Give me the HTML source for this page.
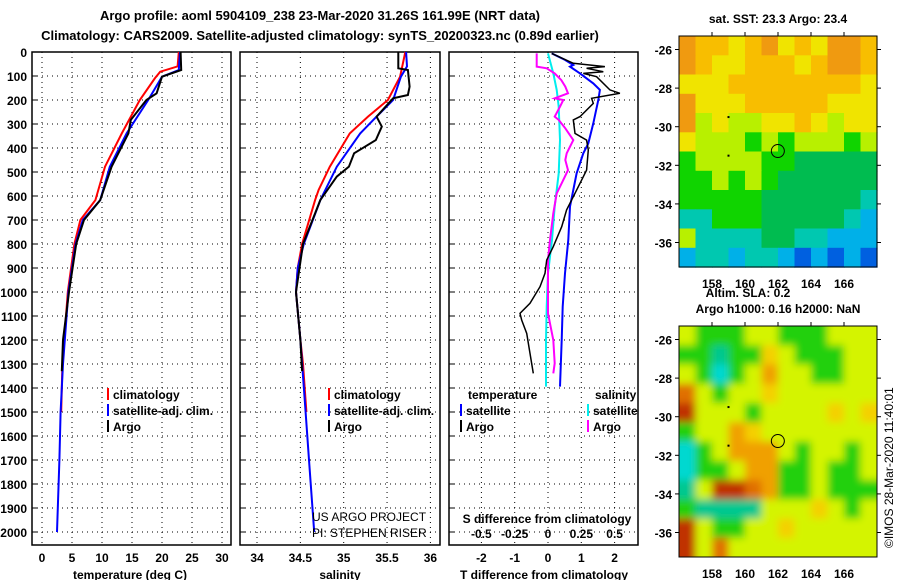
<!DOCTYPE html>
<html><head><meta charset="utf-8"><style>
html,body{margin:0;padding:0;background:#fff}
svg{display:block;font-family:"Liberation Sans",sans-serif}
.t{font-weight:bold;font-size:13px}
.tk{font-weight:bold;font-size:12px}
.lg{font-weight:bold;font-size:12px}
.nm{font-weight:normal;font-size:12px}
</style></head><body>
<svg id="s" width="900" height="580" viewBox="0 0 900 580" xmlns="http://www.w3.org/2000/svg">
<defs>
<filter id="blur" x="-5%" y="-5%" width="110%" height="110%"><feGaussianBlur stdDeviation="4"/></filter>
<clipPath id="clipSla"><rect x="679" y="326" width="198" height="231"/></clipPath>
<clipPath id="clipSal"><rect x="240" y="52" width="200" height="493"/></clipPath>
</defs>
<text class="t" x="320" y="20" text-anchor="middle" font-size="14">Argo profile: aoml 5904109_238 23-Mar-2020 31.26S 161.99E (NRT data)</text>
<text class="t" x="320" y="40" text-anchor="middle" font-size="14">Climatology: CARS2009. Satellite-adjusted climatology: synTS_20200323.nc (0.89d earlier)</text>
<g id="g"></g>
</svg>
<script>
// ---- data ----
const depthTicks=[0,100,200,300,400,500,600,700,800,900,1000,1100,1200,1300,1400,1500,1600,1700,1800,1900,2000];
const tempTicks=[0,5,10,15,20,25,30];
const salTicks=[34,34.5,35,35.5,36];
const salTickLabels=["34","34.5","35","35.5","36"];
const tdiffTicks=[-2,-1,0,1,2];
const sdiffTicks=[-0.5,-0.25,0,0.25,0.5];
const sdiffTickLabels=["-0.5","-0.25","0","0.25","0.5"];
// temperature profiles
const tClimDepth=[0,60,82,110,200,339,478,617,700,800,1000,1300,1500];
const tClimVal=[22.8,22.6,19.7,18.8,16.3,13.3,10.5,8.9,6.4,5.4,4.3,3.4,3.2];
const tSatDepth=[0,75,103,200,339,478,617,700,800,1000,1300,1500,1700,2000];
const tSatVal=[23,22.8,20,17.7,14.1,11.3,9.7,6.8,5.6,4.4,3.5,3.1,2.9,2.5];
const tArgoDepth=[0,75,103,172,200,283,339,478,617,700,800,1000,1100,1200,1330];
const tArgoVal=[23.1,23.2,20,19.1,17.4,14.8,14.4,11.6,9.7,7,5.7,4.5,4.0,3.5,3.3];
// salinity profiles
const sClimDepth=[0,103,200,269,339,478,575,617,800,900,1000,1200,1300,1500];
const sClimVal=[35.71,35.65,35.51,35.28,35.07,34.84,34.71,34.67,34.52,34.47,34.45,34.5,34.53,34.57];
const sSatDepth=[0,60,103,200,269,339,478,617,800,900,1000,1200,1500,1700,2000];
const sSatVal=[35.72,35.73,35.66,35.57,35.38,35.19,34.92,34.73,34.54,34.47,34.45,34.5,34.56,34.6,34.66];
const sArgoDepth=[0,68,75,144,179,193,269,311,367,422,478,519,617,800,1000,1200,1330];
const sArgoVal=[35.63,35.63,35.74,35.76,35.74,35.57,35.38,35.44,35.37,35.12,35.06,34.92,34.73,34.53,34.45,34.5,34.52];
// differences
const dTArgoDepth=[6,47,61,68,82,89,103,158,172,193,214,269,283,339,367,408,492,547,603,658,728,811,867,922,978,1047,1089,1117,1172,1256,1339];
const dTArgoVal=[0.11,0.76,1.71,1.16,1.66,1.06,1.46,1.86,2.16,1.31,1.36,0.96,0.76,0.81,1.16,1.21,1.16,0.96,0.76,0.56,0.41,0.16,-0.04,-0.09,-0.24,-0.54,-0.84,-0.79,-0.64,-0.54,-0.44];
const dTSatDepth=[6,33,54,61,89,131,158,200,297,381,422,506,575,644,783,922,1061,1200,1394];
const dTSatVal=[0.11,0.51,0.76,0.66,0.96,1.36,1.56,1.51,1.36,1.21,1.06,0.86,0.76,0.66,0.61,0.51,0.44,0.41,0.36];
const dSArgoDepth=[6,61,68,89,117,144,172,193,200,228,269,283,318,367,422,450,492,533,589,672,783,867,922,1033,1089,1200,1297,1339];
const dSArgoVal=[-0.085,-0.085,-0.01,0.05,0.10,0.13,0.15,0.05,0.115,0.09,0.05,0.08,0.13,0.19,0.14,0.13,0.15,0.115,0.065,0.04,0.015,0.0,0.0,0.0,0.0,0.04,0.05,0.04];
const dSSatDepth=[6,89,158,228,367,506,644,783,922,1061,1200,1394];
const dSSatVal=[0.0,0.04,0.065,0.08,0.09,0.08,0.05,0.03,0.0,-0.01,-0.015,-0.015];
// maps (lat/lon)
const lonTicks=[158,160,162,164,166];
const latTicks=[-26,-28,-30,-32,-34,-36];
const argoLon=161.99, argoLat=-31.26;
const sstRows=["ROOYORYOYRRO","ROYYOOOYORRO","YYYOOOOOOOOY","RYYYOOOOOYYY","RLYLLYYOYLYY","YLLLGLGLLLGL","GLLLLGGDDDDD","GGLGLGDDDDDD","GGGGGDDDDDDT","TTGGGDDDDDTC","LTTTTDDTTCCC","CTTCTTCBCBCB"];
const slaRows=["YGGGYYGGGYYY","GGTGGoYGGGYY","YGCGYOYYGGYY","rYGYYoYYYYYY","RYYYGYYYYoYo","GYYOoYYYYYYY","CGYOOOYGYYGY","CGGYOOGGYGGY","TYRRrOGGYGGG","GTTTTYYYoYGY","RYGGYYoYYYYY","RYrYYYYYYYYY"];
const sstCol={R:"#f09a10",O:"#f8be00",Y:"#f0e400",L:"#b8f000",G:"#10d400",D:"#00bc50",T:"#00c8b0",C:"#00b0e8",B:"#0060e0"};
const slaCol={Y:"#d4f400",G:"#20d010",T:"#00c890",C:"#00d8d0",O:"#f0a000",o:"#f4d000",R:"#c03000",r:"#e07000"};

// ---- helpers ----
const NS="http://www.w3.org/2000/svg";
const G=document.getElementById('g');
function mk(tag,at,parent){const e=document.createElementNS(NS,tag);for(const k in at)e.setAttribute(k,at[k]);(parent||G).appendChild(e);return e;}
const yD=d=>52+d*0.24;
const panels=[
 {x0:32,x1:231,fx:v=>42+6*v,ticks:tempTicks,labels:tempTicks.map(String),title:"temperature (deg C)",tx:130,name:"temperature-panel"},
 {x0:240,x1:440,fx:v=>257+86.7*(v-34),ticks:salTicks,labels:salTickLabels,title:"salinity",tx:340,name:"salinity-panel"},
 {x0:449,x1:638,fx:v=>548+33.3*v,ticks:tdiffTicks,labels:tdiffTicks.map(String),title:"T difference from climatology",tx:544,name:"difference-panel"}
];
const fS=v=>548+133.3*v;
panels.forEach((p,i)=>{
  const r=mk('rect',{x:p.x0,y:52,width:p.x1-p.x0,height:493,fill:"none",stroke:"#000","stroke-width":1.5});
  
  
  depthTicks.forEach(d=>{
    if(d>0){const l=mk('line',{x1:p.x0,x2:p.x1,y1:yD(d),y2:yD(d),stroke:"#000","stroke-dasharray":"1,4","stroke-width":1});
    
    }
    const tk=mk('line',{x1:p.x0,x2:p.x0+5,y1:yD(d),y2:yD(d),stroke:"#000"});
    
    
  });
  p.ticks.forEach((v,j)=>{
    const x=p.fx(v);
    const l=mk('line',{x1:x,x2:x,y1:52,y2:545,stroke:"#000","stroke-dasharray":"1,4"});
    
    
    const t=mk('text',{x:x,y:562,"text-anchor":"middle",class:"tk"});t.textContent=p.labels[j];
    
    
  });
  const tt=mk('text',{x:p.tx,y:579,"text-anchor":"middle",class:"tk"});tt.textContent=p.title;
  
  
});
depthTicks.forEach(d=>{
  const t=mk('text',{x:27,y:yD(d)+5,"text-anchor":"end",class:"tk"});t.textContent=String(d);
  
  
});
function line(ds,vs,fx,color,name,w){
  const pts=ds.map((d,i)=>fx(vs[i]).toFixed(1)+","+yD(d).toFixed(1)).join(" ");
  const e=mk('polyline',{points:pts,fill:"none",stroke:color,"stroke-width":w||2});
  
  
}
line(tClimDepth,tClimVal,panels[0].fx,"#f00","temperature-climatology-line");
line(tSatDepth,tSatVal,panels[0].fx,"#00f","temperature-satellite-line");
line(tArgoDepth,tArgoVal,panels[0].fx,"#000","temperature-argo-line");
line(sClimDepth,sClimVal,panels[1].fx,"#f00","salinity-climatology-line");
line(sSatDepth,sSatVal,panels[1].fx,"#00f","salinity-satellite-line");
line(sArgoDepth,sArgoVal,panels[1].fx,"#000","salinity-argo-line");
line(dSSatDepth,dSSatVal,fS,"#0ee","s-diff-satellite-line");
line(dSArgoDepth,dSArgoVal,fS,"#f0f","s-diff-argo-line");
line(dTSatDepth,dTSatVal,panels[2].fx,"#00f","t-diff-satellite-line");
line(dTArgoDepth,dTArgoVal,panels[2].fx,"#000","t-diff-argo-line",1.5);
sdiffTicks.forEach((v,j)=>{
  const t=mk('text',{x:fS(v),y:538,"text-anchor":"middle",class:"tk"});t.textContent=sdiffTickLabels[j];
  
  
});
function txt(x,y,s,name,extra,cls){const t=mk('text',Object.assign({x:x,y:y,class:cls||"lg"},extra||{}));t.textContent=s;return t;}
txt(547,523,"S difference from climatology","s-diff-axis-title",{"text-anchor":"middle"});
function leg(x,y,color,label,name){
  const m=mk('line',{x1:x,x2:x,y1:y-11,y2:y+1,stroke:color,"stroke-width":2});
  
  
  txt(x+5,y,label,name);
}
leg(108,399,"#f00","climatology","legend-climatology");
leg(108,415,"#00f","satellite-adj. clim.","legend-satellite");
leg(108,431,"#000","Argo","legend-argo");
leg(329,399,"#f00","climatology","legend-climatology-2");
leg(329,415,"#00f","satellite-adj. clim.","legend-satellite-2");
leg(329,431,"#000","Argo","legend-argo-2");
txt(468,399,"temperature","legend-temperature-header");
txt(595,399,"salinity","legend-salinity-header");
leg(461,415,"#00f","satellite","legend-t-satellite");
leg(461,431,"#000","Argo","legend-t-argo");
leg(588,415,"#0ee","satellite","legend-s-satellite");
leg(588,431,"#f0f","Argo","legend-s-argo");
txt(312,521,"US ARGO PROJECT","credit-project",{"clip-path":"url(#clipSal)"},"nm");
txt(312,537,"PI: STEPHEN RISER","credit-pi",{"clip-path":"url(#clipSal)"},"nm");
// maps
const mx0=679,mx1=877;
const fLon=l=>mx0+(l-156)*16.5;
function map(y0,rows,cols,name,title,tY,smooth){
  const fLat=l=>y0+(-25.3-l)*19.3;
  const g=mk('g',smooth?{"clip-path":"url(#clipSla)"}:{});
  
  
  const inner=smooth?mk('g',{filter:"url(#blur)"},g):g;
  const cw=(mx1-mx0)/12,ch=231/12;
  const ext=smooth?2:0;
  for(let i=-ext;i<12+ext;i++){for(let j=-ext;j<12+ext;j++){
    const r=rows[Math.min(11,Math.max(0,i))];const k=r[Math.min(11,Math.max(0,j))];
    const c=mk('rect',{x:(mx0+j*cw).toFixed(1),y:(y0+i*ch).toFixed(1),width:(cw+0.6).toFixed(1),height:(ch+0.6).toFixed(1),fill:cols[k]},inner);
    
    
  }}
  const fr=mk('rect',{x:mx0,y:y0,width:mx1-mx0,height:231,fill:"none",stroke:"#000","stroke-width":1});
  
  
  latTicks.forEach(l=>{
    const y=fLat(l);
    const a=mk('line',{x1:mx0-4,x2:mx0,y1:y,y2:y,stroke:"#000"});
    
    
    const b=mk('line',{x1:mx1,x2:mx1+4,y1:y,y2:y,stroke:"#000"});
    
    
    txt(672,y+5,String(l),'lat-tick-label',{"text-anchor":"end"});
  });
  lonTicks.forEach(l=>{
    const x=fLon(l);
    const a=mk('line',{x1:x,x2:x,y1:y0-4,y2:y0,stroke:"#000"});
    
    
    txt(x,y0+252,String(l),'lon-tick-label',{"text-anchor":"middle"});
  });
  const c=mk('circle',{cx:fLon(argoLon),cy:fLat(argoLat),r:6.5,fill:"none",stroke:"#000","stroke-width":1});
  
  
  [[159,-29.5],[159,-31.5]].forEach(p=>{const d=mk('rect',{x:fLon(p[0])-1,y:fLat(p[1])-1,width:2,height:2,fill:"#000"});});
  txt(778,tY,title,name+'-title',{"text-anchor":"middle"});
}
map(36,sstRows,sstCol,"sst-map","sat. SST: 23.3 Argo: 23.4",23,false);
map(326,slaRows,slaCol,"sla-map","Argo h1000: 0.16 h2000: NaN",313,true);
txt(748,297,"Altim. SLA: 0.2","sla-label",{"text-anchor":"middle"});
txt(0,0,"©IMOS 28-Mar-2020 11:40:01","copyright-timestamp",{transform:"translate(893,548) rotate(-90)"},"nm");
</script>
</body></html>
